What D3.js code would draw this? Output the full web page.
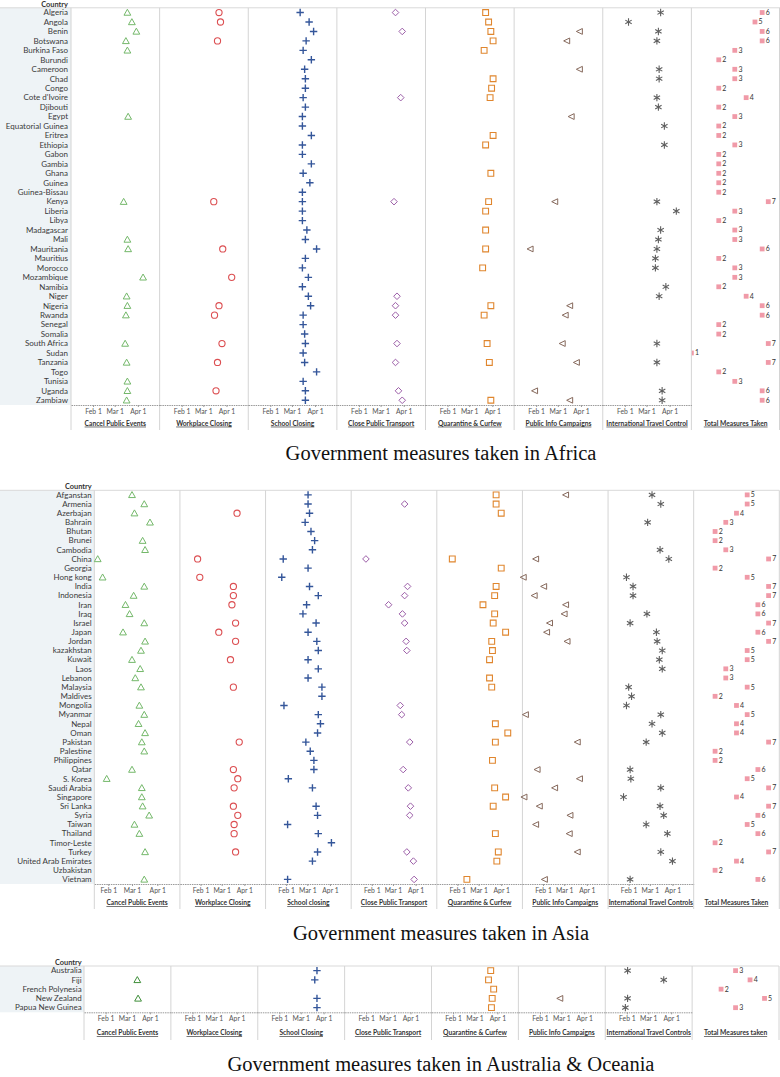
<!DOCTYPE html>
<html><head><meta charset="utf-8">
<script src="https://cdn.jsdelivr.net/npm/d3@7"></script>
<style>body{margin:0;background:#fff}svg{display:block}</style>
</head><body><svg id="c" width="780" height="1077"></svg>
<script>
// ---------------- DATA ----------------
const tickDates = ["2/1", "3/1", "4/1"];
const tickLabels = ["Feb 1", "Mar 1", "Apr 1"];

// Africa
const africaCountries = ["Algeria","Angola","Benin","Botswana","Burkina Faso","Burundi","Cameroon","Chad","Congo","Cote d'Ivoire","Djibouti","Egypt","Equatorial Guinea","Eritrea","Ethiopia","Gabon","Gambia","Ghana","Guinea","Guinea-Bissau","Kenya","Liberia","Libya","Madagascar","Mali","Mauritania","Mauritius","Morocco","Mozambique","Namibia","Niger","Nigeria","Rwanda","Senegal","Somalia","South Africa","Sudan","Tanzania","Togo","Tunisia","Uganda","Zambiaw"];
const africaCancel = [["Algeria","3/18"],["Angola","3/24"],["Benin","3/30"],["Botswana","3/16"],["Burkina Faso","3/18"],["Egypt","3/19"],["Kenya","3/13"],["Mali","3/18"],["Mauritania","3/19"],["Mozambique","4/8"],["Niger","3/17"],["Nigeria","3/18"],["Rwanda","3/16"],["South Africa","3/15"],["Tanzania","3/17"],["Tunisia","3/18"],["Uganda","3/18"],["Zambiaw","3/17"]];
const africaWorkplace = [["Algeria","3/22"],["Angola","3/24"],["Botswana","3/20"],["Kenya","3/15"],["Mauritania","3/27"],["Mozambique","4/8"],["Nigeria","3/22"],["Rwanda","3/16"],["South Africa","3/26"],["Tanzania","3/20"],["Uganda","3/18"]];
const africaSchool = [["Algeria","3/12"],["Angola","3/24"],["Benin","3/30"],["Botswana","3/20"],["Burkina Faso","3/16"],["Burundi","3/27"],["Cameroon","3/18"],["Chad","3/19"],["Congo","3/19"],["Cote d'Ivoire","3/16"],["Djibouti","3/19"],["Egypt","3/15"],["Equatorial Guinea","3/15"],["Eritrea","3/27"],["Ethiopia","3/15"],["Gabon","3/15"],["Gambia","3/27"],["Ghana","3/16"],["Guinea","3/25"],["Guinea-Bissau","3/15"],["Kenya","3/15"],["Liberia","3/15"],["Libya","3/15"],["Madagascar","3/21"],["Mali","3/19"],["Mauritania","4/3"],["Mauritius","3/19"],["Morocco","3/15"],["Mozambique","3/23"],["Namibia","3/15"],["Niger","3/23"],["Nigeria","3/26"],["Rwanda","3/16"],["Senegal","3/16"],["Somalia","3/18"],["South Africa","3/19"],["Sudan","3/16"],["Tanzania","3/18"],["Togo","4/3"],["Tunisia","3/16"],["Uganda","3/19"],["Zambiaw","3/19"]];
const africaTransport = [["Algeria","3/21"],["Benin","3/30"],["Cote d'Ivoire","3/28"],["Kenya","3/19"],["Niger","3/23"],["Nigeria","3/21"],["Rwanda","3/21"],["South Africa","3/23"],["Tanzania","3/21"],["Uganda","3/25"],["Zambiaw","3/30"]];
const africaQuarantine = [["Algeria","3/23"],["Angola","3/27"],["Benin","3/30"],["Botswana","4/2"],["Burkina Faso","3/21"],["Chad","4/2"],["Congo","3/31"],["Cote d'Ivoire","3/29"],["Eritrea","4/2"],["Ethiopia","3/23"],["Ghana","3/30"],["Kenya","3/27"],["Liberia","3/23"],["Madagascar","3/23"],["Mauritania","3/23"],["Morocco","3/19"],["Nigeria","3/30"],["Rwanda","3/21"],["South Africa","3/25"],["Tanzania","3/28"],["Zambiaw","3/30"]];
const africaInfo = [["Benin","3/30"],["Botswana","3/13"],["Cameroon","3/30"],["Egypt","3/19"],["Kenya","2/26"],["Mauritania","1/24"],["Nigeria","3/17"],["Rwanda","3/11"],["South Africa","3/7"],["Tanzania","3/26"],["Uganda","1/30"],["Zambiaw","3/17"]];
const africaTravel = [["Algeria","3/20"],["Angola","2/6"],["Benin","3/17"],["Botswana","3/15"],["Cameroon","3/18"],["Chad","3/18"],["Cote d'Ivoire","3/15"],["Djibouti","3/17"],["Equatorial Guinea","3/25"],["Ethiopia","3/25"],["Kenya","3/15"],["Liberia","4/10"],["Madagascar","3/20"],["Mali","3/17"],["Mauritania","3/15"],["Mauritius","3/13"],["Morocco","3/13"],["Namibia","3/27"],["Niger","3/18"],["South Africa","3/15"],["Tanzania","3/15"],["Uganda","3/22"],["Zambiaw","3/22"]];
const africaTotals = [6,5,6,6,3,2,3,3,2,4,2,3,2,2,3,2,2,2,2,2,7,3,2,3,3,6,2,3,3,2,4,6,6,2,2,7,1,7,2,3,6,6];
const africaTitles = ["Cancel Public Events","Workplace Closing","School Closing","Close Public Transport","Quarantine & Curfew","Public Info Campaigns","International Travel Control","Total Measures Taken"];

// Asia
const asiaCountries = ["Afganstan","Armenia","Azerbajan","Bahrain","Bhutan","Brunei","Cambodia","China","Georgia","Hong kong","India","Indonesia","Iran","Iraq","Israel","Japan","Jordan","kazakhstan","Kuwait","Laos","Lebanon","Malaysia","Maldives","Mongolia","Myanmar","Nepal","Oman","Pakistan","Palestine","Philippines","Qatar","S. Korea","Saudi Arabia","Singapore","Sri Lanka","Syria","Taiwan","Thailand","Timor-Leste","Turkey","United Arab Emirates","Uzbakistan","Vietnam"];
const asiaCancel = [["Afganstan","3/1"],["Armenia","3/16"],["Azerbajan","3/4"],["Bahrain","3/23"],["Brunei","3/14"],["Cambodia","3/17"],["China","1/19"],["Hong kong","1/25"],["India","3/16"],["Indonesia","3/3"],["Iran","2/22"],["Iraq","2/27"],["Israel","3/16"],["Japan","2/19"],["Jordan","3/17"],["kazakhstan","3/12"],["Kuwait","3/1"],["Laos","3/11"],["Lebanon","3/5"],["Malaysia","3/12"],["Mongolia","3/10"],["Myanmar","3/16"],["Nepal","3/9"],["Oman","3/17"],["Pakistan","3/13"],["Palestine","3/16"],["Qatar","3/1"],["S. Korea","1/30"],["Saudi Arabia","3/13"],["Singapore","3/13"],["Sri Lanka","3/14"],["Syria","3/22"],["Taiwan","3/4"],["Thailand","3/10"],["Turkey","3/17"],["Vietnam","3/16"]];
const asiaWorkplace = [["Azerbajan","3/22"],["China","1/28"],["Hong kong","1/31"],["India","3/17"],["Indonesia","3/17"],["Iran","3/15"],["Israel","3/20"],["Japan","2/26"],["Jordan","3/20"],["Kuwait","3/13"],["Malaysia","3/17"],["Pakistan","3/25"],["Qatar","3/17"],["S. Korea","3/23"],["Saudi Arabia","3/18"],["Sri Lanka","3/17"],["Syria","3/23"],["Taiwan","3/18"],["Thailand","3/18"],["Turkey","3/20"]];
const asiaSchool = [["Afganstan","3/2"],["Armenia","3/2"],["Azerbajan","3/4"],["Bahrain","2/27"],["Bhutan","3/6"],["Brunei","3/11"],["Cambodia","3/8"],["China","1/28"],["Georgia","3/2"],["Hong kong","1/26"],["India","3/4"],["Indonesia","3/16"],["Iran","2/29"],["Iraq","2/24"],["Israel","3/13"],["Japan","3/2"],["Jordan","3/14"],["kazakhstan","3/16"],["Kuwait","3/2"],["Laos","3/16"],["Lebanon","3/2"],["Malaysia","3/21"],["Maldives","3/21"],["Mongolia","1/29"],["Myanmar","3/16"],["Nepal","3/19"],["Oman","3/15"],["Pakistan","2/28"],["Palestine","3/5"],["Philippines","3/10"],["Qatar","3/10"],["S. Korea","2/4"],["Saudi Arabia","3/8"],["Sri Lanka","3/13"],["Syria","3/15"],["Taiwan","2/3"],["Thailand","3/16"],["Timor-Leste","4/3"],["Turkey","3/15"],["United Arab Emirates","3/8"],["Vietnam","2/3"]];
const asiaTransport = [["Armenia","3/17"],["China","1/24"],["India","3/21"],["Indonesia","3/17"],["Iran","2/24"],["Iraq","3/14"],["Israel","3/17"],["Jordan","3/19"],["kazakhstan","3/20"],["Mongolia","3/11"],["Myanmar","3/13"],["Pakistan","3/24"],["Qatar","3/15"],["Saudi Arabia","3/22"],["Sri Lanka","3/25"],["Syria","3/24"],["Turkey","3/20"],["United Arab Emirates","3/29"],["Vietnam","3/30"]];
const asiaQuarantine = [["Afganstan","3/25"],["Armenia","3/25"],["Azerbajan","4/1"],["China","1/25"],["Georgia","4/1"],["India","3/25"],["Indonesia","3/23"],["Iran","3/7"],["Iraq","3/23"],["Israel","3/21"],["Japan","4/7"],["Jordan","3/19"],["kazakhstan","3/20"],["Kuwait","3/16"],["Lebanon","3/16"],["Malaysia","3/19"],["Nepal","3/24"],["Oman","4/10"],["Pakistan","3/24"],["Philippines","3/20"],["Saudi Arabia","3/23"],["Singapore","4/7"],["Sri Lanka","3/21"],["Thailand","3/24"],["Turkey","3/28"],["United Arab Emirates","3/26"],["Vietnam","2/14"]];
const asiaInfo = [["Afganstan","3/3"],["China","1/22"],["Hong kong","1/5"],["India","2/2"],["Indonesia","1/20"],["Iran","3/3"],["Iraq","3/1"],["Israel","2/10"],["Japan","2/6"],["Jordan","3/5"],["Myanmar","1/8"],["Pakistan","3/19"],["Qatar","1/24"],["S. Korea","3/22"],["Saudi Arabia","2/17"],["Singapore","1/6"],["Sri Lanka","1/27"],["Syria","3/9"],["Taiwan","1/22"],["Thailand","3/8"],["Turkey","3/19"],["Vietnam","2/3"]];
const asiaTravel = [["Afganstan","3/4"],["Armenia","3/16"],["Bahrain","2/27"],["Cambodia","3/15"],["China","3/27"],["Hong kong","1/29"],["India","2/7"],["Indonesia","2/7"],["Iraq","2/26"],["Israel","2/3"],["Japan","3/10"],["Jordan","3/11"],["kazakhstan","3/18"],["Kuwait","3/14"],["Laos","3/18"],["Malaysia","2/1"],["Maldives","2/5"],["Mongolia","1/29"],["Myanmar","3/16"],["Nepal","3/4"],["Oman","3/18"],["Pakistan","2/25"],["Qatar","2/3"],["S. Korea","2/4"],["Saudi Arabia","3/16"],["Singapore","1/25"],["Sri Lanka","3/15"],["Syria","3/20"],["Taiwan","2/25"],["Thailand","3/25"],["Turkey","3/16"],["United Arab Emirates","4/1"],["Vietnam","2/3"]];
const asiaTotals = [5,5,4,3,2,2,3,7,2,5,7,7,6,6,7,6,7,5,5,3,3,5,2,4,5,4,4,7,2,2,6,5,7,4,7,6,5,6,2,7,4,2,6];
const asiaTitles = ["Cancel Public Events","Workplace Closing","School closing","Close Public Transport","Quarantine & Curfew","Public Info Campaigns","International Travel Controls","Total Measures Taken"];

// Australia & Oceania
const oceaniaCountries = ["Australia","Fiji","French Polynesia","New Zealand","Papua New Guinea"];
const oceaniaCancel = [["Fiji","3/15"],["New Zealand","3/16"]];
const oceaniaWorkplace = [];
const oceaniaSchool = [["Australia","3/23"],["Fiji","3/20"],["New Zealand","3/23"],["Papua New Guinea","3/23"]];
const oceaniaTransport = [];
const oceaniaQuarantine = [["Australia","3/23"],["Fiji","3/20"],["French Polynesia","3/27"],["New Zealand","3/25"],["Papua New Guinea","3/24"]];
const oceaniaInfo = [["New Zealand","2/28"]];
const oceaniaTravel = [["Australia","2/2"],["Fiji","3/22"],["New Zealand","2/2"],["Papua New Guinea","1/30"]];
const oceaniaTotals = [3,4,2,5,3];
const oceaniaTitles = ["Cancel Public Events","Workplace Closing","School Closing","Close Public Transport","Quarantine & Curfew","Public Info Campaigns","International Travel Controls","Total Measures taken"];

// ---------------- DRAWING ----------------
const parseDate = s => d3.timeParse("%Y/%m/%d")("2020/" + s);
const svg = d3.select("#c");
const FONT = "Lato, 'Open Sans', sans-serif";

const markerStyles = [
  {d: "M0,-3.3L3.4,2.7L-3.4,2.7Z", stroke: "#74b86a", fill: "none", w: 1},        // cancel: triangle
  {d: "M3.1,0A3.1,3.1 0 1,1 -3.1,0A3.1,3.1 0 1,1 3.1,0Z", stroke: "#dc4f52", fill: "none", w: 1.1}, // workplace: circle
  {d: "M-3.7,0H3.7M0,-3.7V3.7", stroke: "#34569a", fill: "none", w: 1.4},         // school: plus
  {d: "M0,-3.3L3.3,0L0,3.3L-3.3,0Z", stroke: "#9c5ea8", fill: "none", w: 1},       // transport: diamond
  {d: "M-2.9,-2.9H2.9V2.9H-2.9Z", stroke: "#e0862e", fill: "none", w: 1.1},        // quarantine: square
  {d: "M-3.1,0L2.9,-2.9L2.9,2.9Z", stroke: "#86695c", fill: "none", w: 1},         // info: left triangle
  {d: "M0,-3.7V3.7M-3.2,-1.85L3.2,1.85M-3.2,1.85L3.2,-1.85", stroke: "#5f5f5f", fill: "none", w: 1.1} // travel: asterisk
];

function drawPanel(p) {
  const g = svg.append("g");
  const colW = (p.right - p.left) / 8;
  const y = d3.scaleBand().domain(p.countries).range([p.headerY, p.axisY]);
  const cy = c => y(c) + y.bandwidth() / 2;

  g.append("rect").attr("x", 0).attr("y", p.headerY).attr("width", p.left).attr("height", p.axisY - p.headerY).attr("fill", "#eef3f6");
  g.append("line").attr("x1", 0).attr("x2", p.right).attr("y1", p.headerY).attr("y2", p.headerY).attr("stroke", "#d9d9d9");
  for (let i = 0; i <= 8; i++) {
    const x = Math.min(p.left + i * colW, 779.5);
    g.append("line").attr("x1", x).attr("x2", x).attr("y1", p.headerY).attr("y2", p.sepBottom).attr("stroke", "#d4d4d4");
  }
  g.append("text").attr("x", p.labelX).attr("y", p.headerY - 1).attr("text-anchor", "end")
    .attr("font-family", FONT).attr("font-size", 7.4).attr("font-weight", "bold").attr("fill", "#333").text("Country");
  g.selectAll(null).data(p.countries).join("text")
    .attr("x", p.labelX).attr("y", d => cy(d)).attr("dy", "0.35em").attr("text-anchor", "end")
    .attr("font-family", FONT).attr("font-size", 8).attr("fill", "#3a3a3a").text(d => d);

  p.measures.forEach((list, i) => {
    const x0 = p.left + i * colW;
    const x = d3.scaleTime().domain(p.domains[i].map(s => new Date(s))).range([x0, x0 + colW]);
    const ax = g.append("g").attr("transform", `translate(0,${p.axisY})`)
      .call(d3.axisBottom(x).tickValues(tickDates.map(parseDate)).tickFormat((d, k) => tickLabels[k]).tickSize(2).tickSizeOuter(0));
    ax.select(".domain").attr("stroke", "#9a9a9a").attr("stroke-dasharray", "1.5,0.8");
    ax.selectAll(".tick line").attr("stroke", "#9a9a9a");
    ax.selectAll("text").attr("y", p.tickY - p.axisY).attr("dy", "0.35em")
      .attr("font-family", FONT).attr("font-size", 6.8).attr("fill", "#555");
    const st = markerStyles[i];
    const stroke = (i === 0 && p.cancelColor) ? p.cancelColor : st.stroke;
    g.selectAll(null).data(list).join("path")
      .attr("transform", d => `translate(${x(parseDate(d[1]))},${cy(d[0])})`)
      .attr("d", st.d).attr("fill", st.fill).attr("stroke", stroke).attr("stroke-width", st.w);
  });

  // Total measures column
  const x7 = p.left + 7 * colW;
  const clipId = "clip" + p.id;
  svg.append("clipPath").attr("id", clipId).append("rect")
    .attr("x", x7 + 0.5).attr("y", p.headerY).attr("width", colW).attr("height", p.axisY - p.headerY);
  const xt = p.totalScale.copy().range([x7, x7 + colW]);
  const tg = g.append("g").attr("clip-path", `url(#${clipId})`);
  const totals = p.countries.map((c, k) => ({c, v: p.totals[k]}));
  tg.selectAll(null).data(totals).join("rect")
    .attr("x", d => xt(d.v) - 2.4).attr("y", d => cy(d.c) - 2.4).attr("width", 4.8).attr("height", 4.8)
    .attr("fill", "#f09aa8");
  tg.selectAll(null).data(totals).join("text")
    .attr("x", d => xt(d.v) + 3.6).attr("y", d => cy(d.c)).attr("dy", "0.35em")
    .attr("font-family", FONT).attr("font-size", 7).attr("fill", "#333").text(d => d.v);

  p.titles.forEach((t, i) => {
    g.append("text").attr("x", p.left + (i + 0.5) * colW).attr("y", p.colTitleY).attr("dy", "0.35em")
      .attr("text-anchor", "middle").attr("font-family", FONT).attr("font-size", 6.7).attr("font-weight", "bold")
      .attr("fill", "#333").attr("text-decoration", "underline").text(t);
  });

  g.append("text").attr("x", 441).attr("y", p.headingY).attr("text-anchor", "middle")
    .attr("font-family", "'Liberation Serif', 'Times New Roman', serif").attr("font-size", 20.5).attr("fill", "#111")
    .text(p.heading);
}

const afD = ["2020-01-02T12:00", "2020-04-30T04:00"];
const asD0 = ["2020-01-14T20:00", "2020-04-28T16:00"];
const asD = ["2020-01-03T19:00", "2020-04-30T01:00"];
const ocD = ["2020-01-02T17:30", "2020-04-29T11:30"];

drawPanel({
  id: "af", countries: africaCountries,
  measures: [africaCancel, africaWorkplace, africaSchool, africaTransport, africaQuarantine, africaInfo, africaTravel],
  totals: africaTotals, titles: africaTitles, heading: "Government measures taken in Africa",
  left: 71, right: 780, headerY: 7.8, axisY: 405, labelX: 68, tickY: 412, colTitleY: 423.3, sepBottom: 430, headingY: 460,
  domains: [afD, afD, afD, afD, afD, afD, afD], totalScale: d3.scaleLog().domain([1, 9.42])
});
drawPanel({
  id: "as", countries: asiaCountries,
  measures: [asiaCancel, asiaWorkplace, asiaSchool, asiaTransport, asiaQuarantine, asiaInfo, asiaTravel],
  totals: asiaTotals, titles: asiaTitles, heading: "Government measures taken in Asia",
  left: 94.3, right: 779.3, headerY: 490.3, axisY: 884, labelX: 91.7, tickY: 890.7, colTitleY: 902.7, sepBottom: 909, headingY: 940,
  domains: [asD0, asD, asD, asD, asD, asD, asD], totalScale: d3.scaleLinear().domain([0, 8])
});
drawPanel({
  id: "oc", countries: oceaniaCountries, cancelColor: "#3f8f3a",
  measures: [oceaniaCancel, oceaniaWorkplace, oceaniaSchool, oceaniaTransport, oceaniaQuarantine, oceaniaInfo, oceaniaTravel],
  totals: oceaniaTotals, titles: oceaniaTitles, heading: "Government measures taken in Australia & Oceania",
  left: 84, right: 779, headerY: 966, axisY: 1012.3, labelX: 81.7, tickY: 1018.7, colTitleY: 1032.7, sepBottom: 1040, headingY: 1071,
  domains: [ocD, ocD, ocD, ocD, ocD, ocD, ocD], totalScale: d3.scaleLinear().domain([0, 6])
});
</script></body></html>
